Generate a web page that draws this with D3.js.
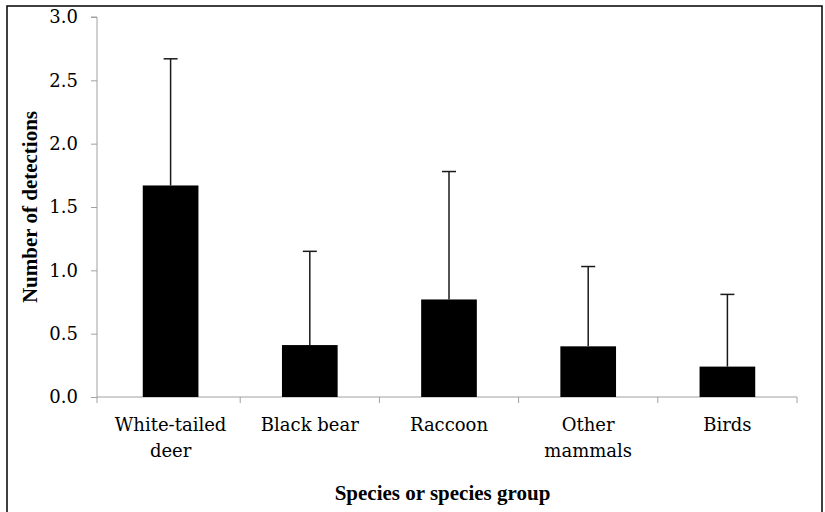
<!DOCTYPE html>
<html>
<head>
<meta charset="utf-8">
<script src="https://cdn.jsdelivr.net/npm/d3@7"></script>
<style>
  body { margin: 0; background: #fff; }
  svg { display: block; }
</style>
</head>
<body>
<figure id="chart" style="margin:0"></figure>
<script>
// data
const categories = ["White-tailed deer", "Black bear", "Raccoon", "Other mammals", "Birds"];
const labelLines = [["White-tailed", "deer"], ["Black bear"], ["Raccoon"], ["Other", "mammals"], ["Birds"]];
const means = [1.67, 0.41, 0.77, 0.40, 0.24];
const upper = [2.67, 1.15, 1.78, 1.03, 0.81];
const yTicks = [0, 0.5, 1.0, 1.5, 2.0, 2.5, 3.0];

const width = 825, height = 512;
const plotLeft = 97, plotRight = 796, plotTop = 17, plotBottom = 397;

const svg = d3.select("#chart")
  .append("svg")
  .attr("width", width)
  .attr("height", height);

// outer frame
svg.append("rect")
  .attr("x", 7).attr("y", 6)
  .attr("width", 815).attr("height", 520)
  .attr("fill", "none")
  .attr("stroke", "#000")
  .attr("stroke-width", 1.5);

const x = d3.scaleBand()
  .domain(categories)
  .range([plotLeft + 4, plotRight + 1])
  .paddingInner(0.6)
  .paddingOuter(0.3);

const y = d3.scaleLinear()
  .domain([0, 3])
  .range([plotBottom, plotTop]);

// y axis
const yAxis = svg.append("g")
  .attr("transform", "translate(" + plotLeft + ",0)")
  .call(d3.axisLeft(y).tickValues(yTicks).tickSize(6).tickPadding(13)
    .tickFormat(d3.format(".1f")));
yAxis.selectAll("path, line").attr("stroke", "#a0a0a0");
yAxis.selectAll("text")
  .attr("font-family", "DejaVu Serif")
  .attr("font-size", 18)
  .attr("fill", "#000");
yAxis.select(".domain").attr("d", "M-6," + y(3) + "H0V" + y(0));

// x axis line and category boundary ticks
const step = x.step();
const bounds = categories.map(c => x(c) + x.bandwidth() / 2 - step / 2)
  .concat([x(categories[4]) + x.bandwidth() / 2 + step / 2]);
bounds[0] = plotLeft;
svg.append("line")
  .attr("x1", plotLeft).attr("x2", bounds[5])
  .attr("y1", y(0)).attr("y2", y(0))
  .attr("stroke", "#a0a0a0");
svg.selectAll(".xtick")
  .data(bounds)
  .enter()
  .append("line")
  .attr("x1", d => d).attr("x2", d => d)
  .attr("y1", y(0)).attr("y2", y(0) + 6)
  .attr("stroke", "#a0a0a0");

// bars
svg.selectAll(".bar")
  .data(categories)
  .enter()
  .append("rect")
  .attr("x", d => x(d))
  .attr("y", (d, i) => y(means[i]))
  .attr("width", x.bandwidth())
  .attr("height", (d, i) => y(0) - y(means[i]))
  .attr("fill", "#000");

// error bars (upper only)
const err = svg.selectAll(".err")
  .data(categories)
  .enter()
  .append("g");
err.append("line")
  .attr("x1", d => x(d) + x.bandwidth() / 2)
  .attr("x2", d => x(d) + x.bandwidth() / 2)
  .attr("y1", (d, i) => y(means[i]))
  .attr("y2", (d, i) => y(upper[i]))
  .attr("stroke", "#1a1a1a")
  .attr("stroke-width", 1.5);
err.append("line")
  .attr("x1", d => x(d) + x.bandwidth() / 2 - 7)
  .attr("x2", d => x(d) + x.bandwidth() / 2 + 7)
  .attr("y1", (d, i) => y(upper[i]))
  .attr("y2", (d, i) => y(upper[i]))
  .attr("stroke", "#1a1a1a")
  .attr("stroke-width", 1.5);

// category labels
svg.selectAll(".cat")
  .data(categories)
  .enter()
  .append("text")
  .attr("text-anchor", "middle")
  .attr("font-family", "DejaVu Serif")
  .attr("font-size", 18)
  .attr("fill", "#000")
  .each(function (d, i) {
    d3.select(this).selectAll("tspan")
      .data(labelLines[i])
      .enter()
      .append("tspan")
      .attr("x", x(d) + x.bandwidth() / 2)
      .attr("y", (t, j) => 431 + j * 25.5)
      .text(t => t);
  });

// axis titles
svg.append("text")
  .attr("x", (plotLeft + plotRight) / 2 - 4)
  .attr("y", 500)
  .attr("text-anchor", "middle")
  .attr("font-family", "Liberation Serif")
  .attr("font-weight", "bold")
  .attr("font-size", 21)
  .text("Species or species group");

svg.append("text")
  .attr("transform", "translate(37," + (plotTop + plotBottom) / 2 + ") rotate(-90)")
  .attr("text-anchor", "middle")
  .attr("font-family", "Liberation Serif")
  .attr("font-weight", "bold")
  .attr("font-size", 21)
  .text("Number of detections");
</script>
</body>
</html>
